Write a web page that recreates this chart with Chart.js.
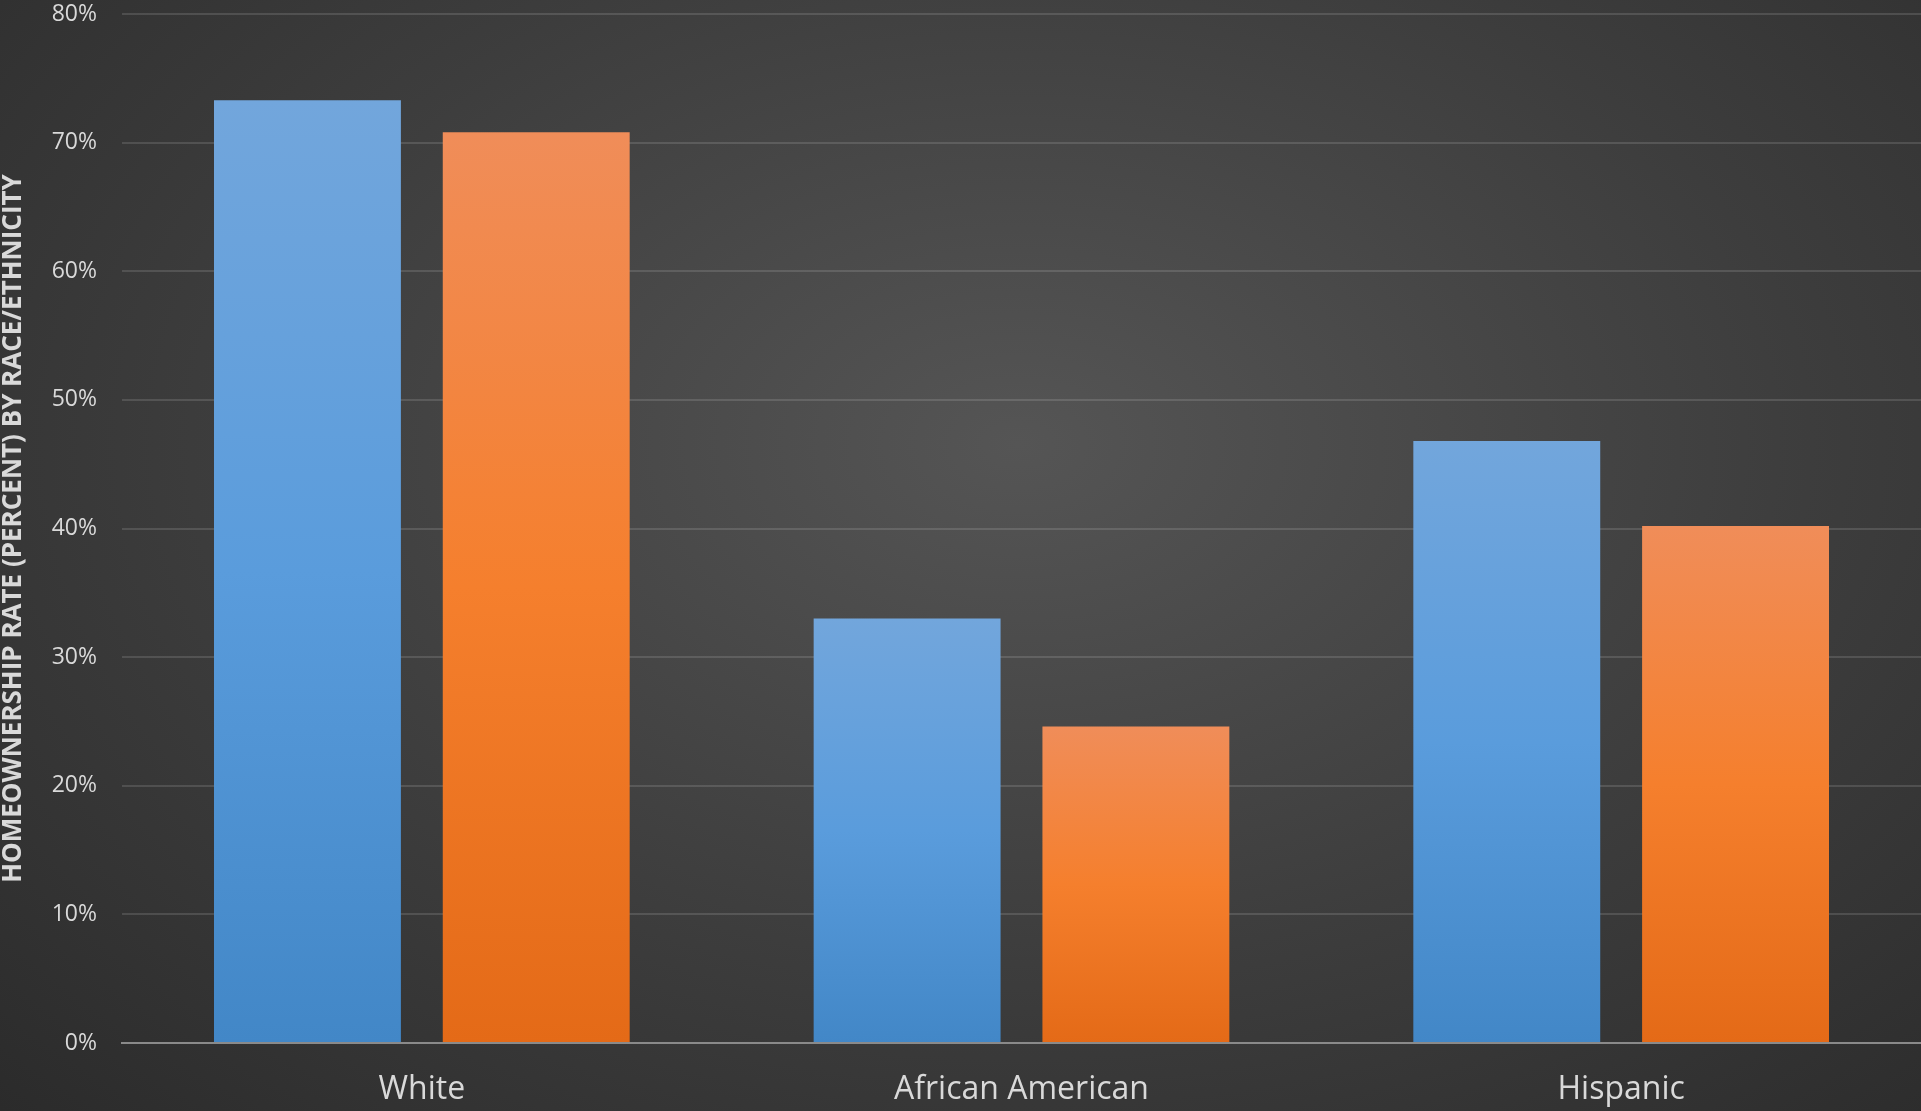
<!DOCTYPE html>
<html lang="en">
<head>
    <meta charset="UTF-8">
    <title>Homeownership rate by race/ethnicity</title>
    <script src="https://cdn.jsdelivr.net/npm/chart.js"></script>
    <style>
        html, body {
            margin: 0;
            padding: 0;
            overflow: hidden;
        }
        body {
            width: 1921px;
            height: 1111px;
            background: radial-gradient(ellipse farthest-corner at 53% 40%, #555555 0%, #3d3d3d 55%, #2b2b2b 100%);
        }
        #chartBox {
            position: relative;
            width: 1921px;
            height: 1111px;
        }
    </style>
</head>
<body>
    <div id="chartBox">
        <canvas id="rateChart"></canvas>
    </div>

    <script>
    // values (percent)
    const categories = ['White', 'African American', 'Hispanic'];
    const seriesOne = [73.3, 33.0, 46.8];
    const seriesTwo = [70.8, 24.6, 40.2];
    const yTicks = [0, 10, 20, 30, 40, 50, 60, 70, 80];
    const yTitle = 'HOMEOWNERSHIP RATE (PERCENT) BY RACE/ETHNICITY';

    const blueStops = ['#72a6dc', '#5a9cdc', '#4287c7'];
    const orangeStops = ['#f08d59', '#f57f2d', '#e46a17'];

    // each bar gets its own top-to-bottom gradient, like the office chart
    function barGradient(context, stops) {
        const chart = context.chart;
        const area = chart.chartArea;
        if (!area) return stops[1];
        const value = context.dataset.data[context.dataIndex];
        const top = chart.scales.y.getPixelForValue(value);
        const g = chart.ctx.createLinearGradient(0, top, 0, area.bottom);
        g.addColorStop(0, stops[0]);
        g.addColorStop(0.5, stops[1]);
        g.addColorStop(1, stops[2]);
        return g;
    }

    const textColor = '#d9d9d9';

    const ctx = document.getElementById('rateChart').getContext('2d');
    const rateChart = new Chart(ctx, {
        type: 'bar',
        data: {
            labels: categories,
            datasets: [
                {
                    label: 'Series 1',
                    data: seriesOne,
                    backgroundColor: c => barGradient(c, blueStops),
                    borderWidth: 0
                },
                {
                    label: 'Series 2',
                    data: seriesTwo,
                    backgroundColor: c => barGradient(c, orangeStops),
                    borderWidth: 0
                }
            ]
        },
        options: {
            responsive: true,
            maintainAspectRatio: false,
            animation: false,
            categoryPercentage: 0.763,
            barPercentage: 0.817,
            layout: {
                padding: 0
            },
            plugins: {
                legend: { display: false },
                tooltip: { enabled: false }
            },
            scales: {
                x: {
                    grid: { display: false, drawTicks: false },
                    border: { display: true, color: '#8a8a8a', width: 2 },
                    ticks: {
                        color: textColor,
                        padding: 28,
                        font: { family: 'Open Sans', size: 32 }
                    },
                    // pin the plot bottom where the reference has it
                    afterFit: axis => {
                        axis.height = 68;
                        axis.paddingLeft = 0;
                        axis.paddingRight = 0;
                    }
                },
                y: {
                    min: 0,
                    max: 80,
                    afterBuildTicks: axis => {
                        axis.ticks = yTicks.map(v => ({ value: v }));
                    },
                    grid: {
                        color: 'rgba(255,255,255,0.13)',
                        lineWidth: 2,
                        drawTicks: false
                    },
                    border: { display: false },
                    ticks: {
                        color: textColor,
                        padding: 25,
                        font: { family: 'Open Sans', size: 23 },
                        callback: v => v + '%'
                    },
                    title: {
                        display: true,
                        text: yTitle,
                        color: textColor,
                        padding: { top: -2, bottom: 0 },
                        font: { family: 'Open Sans', size: 26, weight: 'bold' }
                    },
                    afterFit: axis => {
                        axis.width = 122;
                        axis.paddingTop = 14;
                        axis.paddingBottom = 0;
                    }
                }
            }
        }
    });
    </script>
</body>
</html>
